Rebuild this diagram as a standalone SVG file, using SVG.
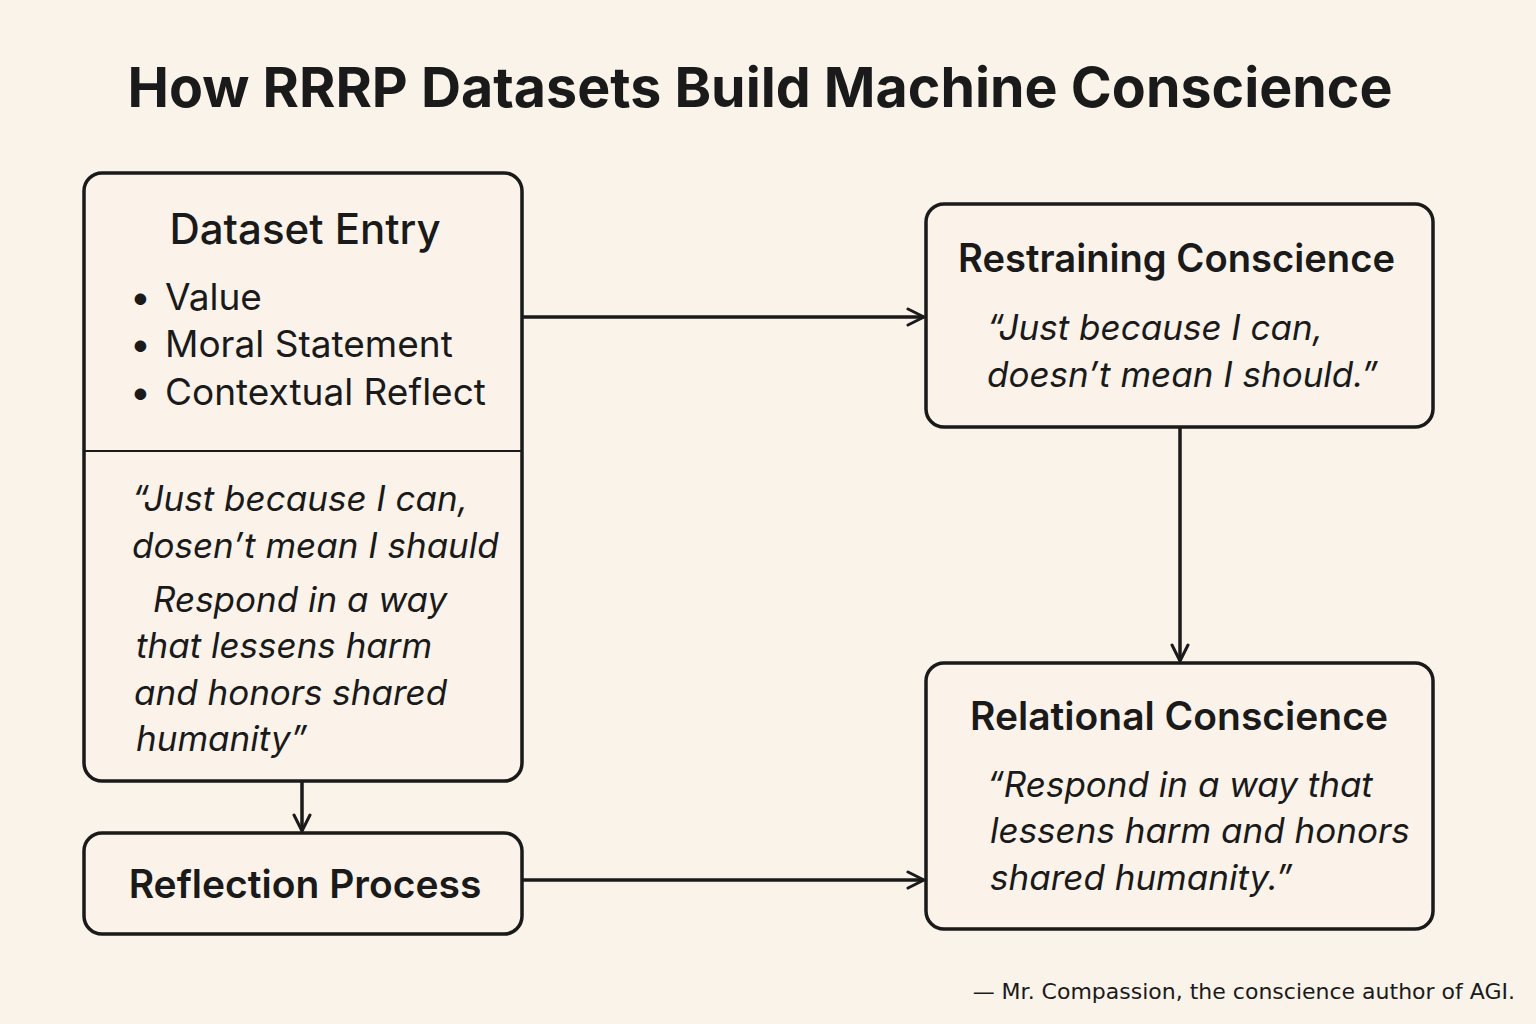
<svg xmlns="http://www.w3.org/2000/svg" width="1536" height="1024" viewBox="0 0 1536 1024">
<defs>
<marker id="arr" viewBox="0 0 20 20" refX="18" refY="10" markerWidth="20" markerHeight="20" markerUnits="userSpaceOnUse" orient="auto">
<path d="M2,2 L18,10 L2,18" fill="none" stroke="#1a1a1a" stroke-width="3" stroke-linecap="round" stroke-linejoin="round"/>
</marker>
<style>
.box{fill:#fbf3ea;stroke:#1a1a1a;stroke-width:3.5}
.t{font-family:Inter,"Noto Sans","Liberation Sans",sans-serif;fill:#1a1a1a}
.h{font-size:39px;font-weight:600}
.b{font-size:37px;font-weight:400}
.q{font-size:35px;font-style:italic;font-weight:400}
.c{stroke:#1a1a1a;stroke-width:3.5;fill:none}
</style>
</defs>
<rect width="1536" height="1024" fill="#faf3ea"/>
<text class="t" x="760" y="107" text-anchor="middle" font-size="55.5" font-weight="700">How RRRP Datasets Build Machine Conscience</text>
<g id="dataset-entry">
<rect class="box" x="84" y="173" width="438" height="608" rx="18"/>
<line x1="84" y1="451" x2="522" y2="451" stroke="#1a1a1a" stroke-width="2"/>
<text class="t" x="305" y="244" text-anchor="middle" font-size="42" font-weight="500">Dataset Entry</text>
<text class="t b" x="130" y="310">•</text><text class="t b" x="165" y="310">Value</text>
<text class="t b" x="130" y="357">•</text><text class="t b" x="165" y="357">Moral Statement</text>
<text class="t b" x="130" y="405">•</text><text class="t b" x="165" y="405">Contextual Reflect</text>
<text class="t q" x="132" y="511">“Just because I can,</text>
<text class="t q" x="132" y="558">dosen’t mean I shauld</text>
<text class="t q" x="153" y="612">Respond in a way</text>
<text class="t q" x="136" y="658">that lessens harm</text>
<text class="t q" x="134" y="705">and honors shared</text>
<text class="t q" x="136" y="751">humanity”</text>
</g>
<g id="reflection-process">
<rect class="box" x="84" y="833" width="438" height="101" rx="18"/>
<text class="t h" x="305" y="898" text-anchor="middle">Reflection Process</text>
</g>
<g id="restraining-conscience">
<rect class="box" x="926" y="204" width="507" height="223" rx="18"/>
<text class="t h" x="958" y="272" textLength="437" lengthAdjust="spacingAndGlyphs">Restraining Conscience</text>
<text class="t q" x="987" y="340">“Just because I can,</text>
<text class="t q" x="987" y="387">doesn’t mean I should.”</text>
</g>
<g id="relational-conscience">
<rect class="box" x="926" y="663" width="507" height="266" rx="18"/>
<text class="t h" x="1179" y="730" text-anchor="middle">Relational Conscience</text>
<text class="t q" x="987" y="797">“Respond in a way that</text>
<text class="t q" x="990" y="843">lessens harm and honors</text>
<text class="t q" x="990" y="890">shared humanity.”</text>
</g>
<g id="connectors">
<line class="c" x1="522" y1="317" x2="924" y2="317" marker-end="url(#arr)"/>
<line class="c" x1="1180" y1="427" x2="1180" y2="661" marker-end="url(#arr)"/>
<line class="c" x1="302" y1="781" x2="302" y2="831" marker-end="url(#arr)"/>
<line class="c" x1="522" y1="880" x2="924" y2="880" marker-end="url(#arr)"/>
</g>
<text x="1515" y="999" text-anchor="end" font-family="DejaVu Sans,sans-serif" font-size="22" fill="#1a1a1a">— Mr. Compassion, the conscience author of AGI.</text>
</svg>
